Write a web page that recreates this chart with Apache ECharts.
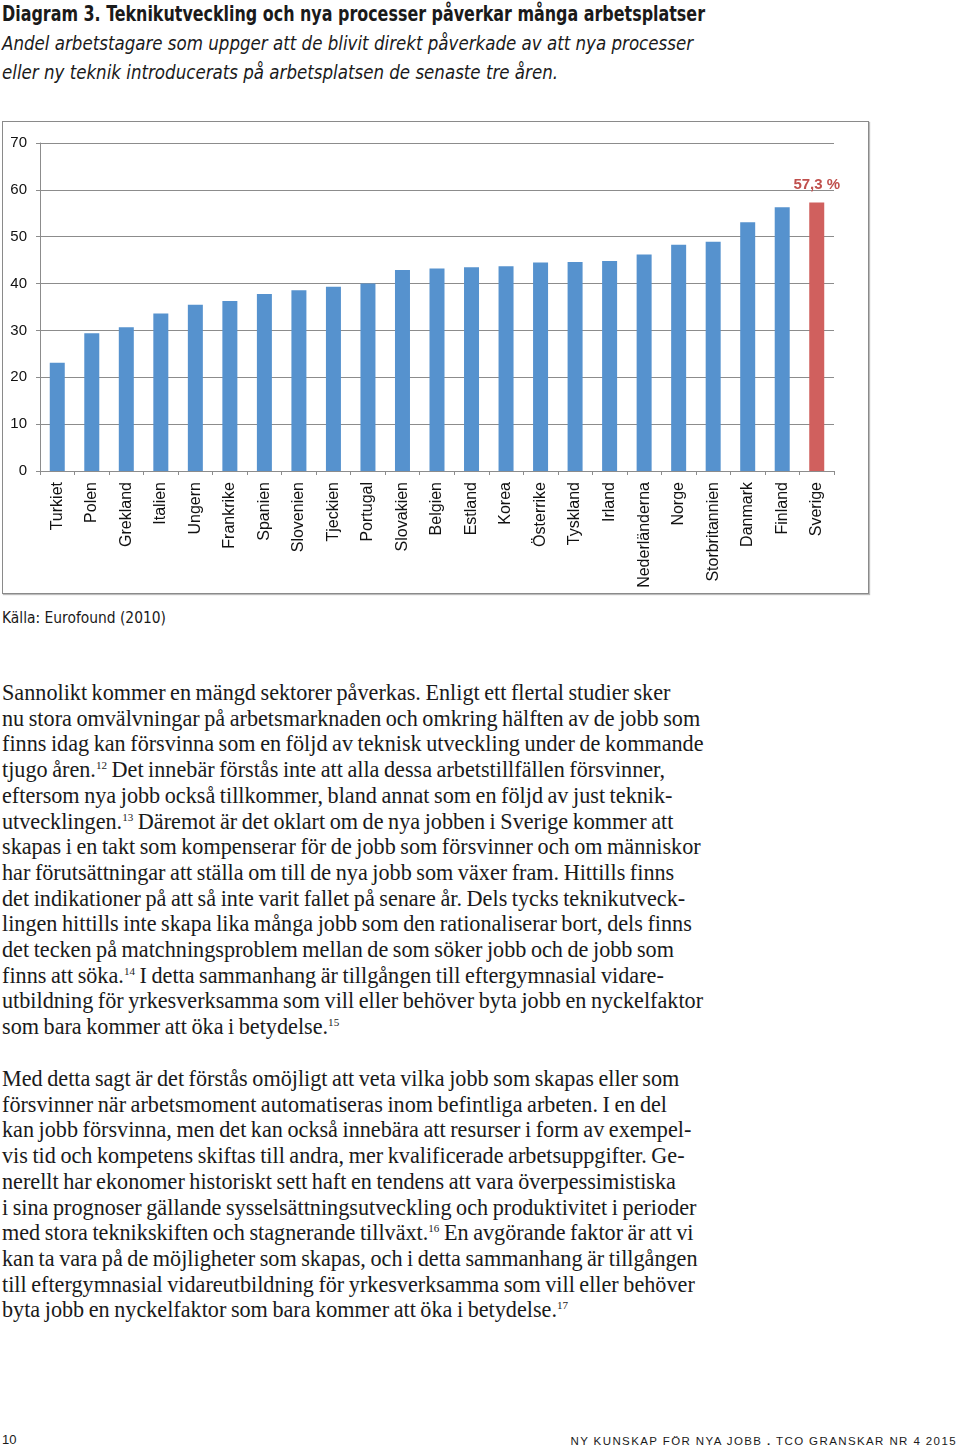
<!DOCTYPE html>
<html>
<head>
<meta charset="utf-8">
<script src="https://cdn.jsdelivr.net/npm/echarts@6/dist/echarts.min.js"></script>
<style>
  html, body { margin:0; padding:0; background:#fff; }
  body { width:960px; height:1449px; position:relative; overflow:hidden; color:#1a1a1a; }
  .abs { position:absolute; white-space:nowrap; }
  .fit { transform-origin:0 0; }
  #title { left:2px; top:1px; font-family:"Liberation Sans Narrow","DejaVu Sans Condensed","DejaVu Sans",sans-serif; font-weight:bold; font-size:21px; line-height:26px; }
  #sub { left:2px; top:29px; font-family:"Liberation Sans Narrow","DejaVu Sans Condensed","DejaVu Sans",sans-serif; font-style:italic; font-size:20px; line-height:29px; }
  #chart { position:absolute; left:2px; top:121px; width:865px; height:471px; border:1px solid #8a8a8a; box-shadow:1px 1px 1px #bbb; }
  #src { left:2px; top:608px; font-family:"Liberation Sans Narrow","DejaVu Sans Condensed","DejaVu Sans",sans-serif; font-size:15px; line-height:20px; }
  .body { font-family:"Liberation Serif","DejaVu Serif",serif; font-size:22.2px; line-height:25.7px; color:#1a1a1a; word-spacing:-1px; }
  sup { font-size:0.5em; vertical-align:0.7em; line-height:0; }
  #p1 { left:2px; top:680px; }
  #p2 { left:2px; top:1066px; }
  #pg { left:2px; top:1432px; font-family:"Liberation Sans","DejaVu Sans",sans-serif; font-size:13px; line-height:16px; }
  #foot { right:3px; top:1433px; font-family:"Liberation Sans","DejaVu Sans",sans-serif; font-size:11.5px; letter-spacing:1.4px; line-height:16px; }
</style>
</head>
<body>
<div id="title" class="abs fit" data-w="703">Diagram 3. Teknikutveckling och nya processer påverkar många arbetsplatser</div>
<div id="sub" class="abs fit" data-w="691">Andel arbetstagare som uppger att de blivit direkt påverkade av att nya processer<br>eller ny teknik introducerats på arbetsplatsen de senaste tre åren.</div>
<div id="chart"></div>
<div id="src" class="abs fit" data-w="164">Källa: Eurofound (2010)</div>
<div id="p1" class="abs body">Sannolikt kommer en mängd sektorer påverkas. Enligt ett flertal studier sker<br>nu stora omvälvningar på arbetsmarknaden och omkring hälften av de jobb som<br>finns idag kan försvinna som en följd av teknisk utveckling under de kommande<br>tjugo åren.<sup>12</sup> Det innebär förstås inte att alla dessa arbetstillfällen försvinner,<br>eftersom nya jobb också tillkommer, bland annat som en följd av just teknik-<br>utvecklingen.<sup>13</sup> Däremot är det oklart om de nya jobben i Sverige kommer att<br>skapas i en takt som kompenserar för de jobb som försvinner och om människor<br>har förutsättningar att ställa om till de nya jobb som växer fram. Hittills finns<br>det indikationer på att så inte varit fallet på senare år. Dels tycks teknikutveck-<br>lingen hittills inte skapa lika många jobb som den rationaliserar bort, dels finns<br>det tecken på matchningsproblem mellan de som söker jobb och de jobb som<br>finns att söka.<sup>14</sup> I detta sammanhang är tillgången till eftergymnasial vidare-<br>utbildning för yrkesverksamma som vill eller behöver byta jobb en nyckelfaktor<br>som bara kommer att öka i betydelse.<sup>15</sup></div>
<div id="p2" class="abs body">Med detta sagt är det förstås omöjligt att veta vilka jobb som skapas eller som<br>försvinner när arbetsmoment automatiseras inom befintliga arbeten. I en del<br>kan jobb försvinna, men det kan också innebära att resurser i form av exempel-<br>vis tid och kompetens skiftas till andra, mer kvalificerade arbetsuppgifter. Ge-<br>nerellt har ekonomer historiskt sett haft en tendens att vara överpessimistiska<br>i sina prognoser gällande sysselsättningsutveckling och produktivitet i perioder<br>med stora teknikskiften och stagnerande tillväxt.<sup>16</sup> En avgörande faktor är att vi<br>kan ta vara på de möjligheter som skapas, och i detta sammanhang är tillgången<br>till eftergymnasial vidareutbildning för yrkesverksamma som vill eller behöver<br>byta jobb en nyckelfaktor som bara kommer att öka i betydelse.<sup>17</sup></div>
<div id="pg" class="abs">10</div>
<div id="foot" class="abs">NY KUNSKAP FÖR NYA JOBB <b>.</b> TCO GRANSKAR NR 4 2015</div>
<script>
const countries = ["Turkiet","Polen","Grekland","Italien","Ungern","Frankrike","Spanien","Slovenien","Tjeckien","Portugal","Slovakien","Belgien","Estland","Korea","Österrike","Tyskland","Irland","Nederländerna","Norge","Storbritannien","Danmark","Finland","Sverige"];
const shares = [23.1,29.4,30.7,33.6,35.5,36.3,37.8,38.6,39.3,40.0,42.9,43.2,43.5,43.7,44.5,44.6,44.8,46.2,48.3,48.9,53.1,56.3,57.3];
const highlight = "Sverige";
const highlightLabel = "57,3 %";
const yTicks = [0,10,20,30,40,50,60,70];

document.querySelectorAll('.fit').forEach(el => {
  const w = el.getBoundingClientRect().width;
  const target = parseFloat(el.dataset.w);
  if (w > 0) el.style.transform = 'scaleX(' + (target / w) + ')';
});

const chart = echarts.init(document.getElementById('chart'), null, {renderer:'canvas'});
const data = shares.map((v,i) => {
  const isHi = countries[i] === highlight;
  return {
    value: v,
    itemStyle: { color: isHi ? '#D0605E' : '#5692CE' },
    label: isHi ? { show:true, position:'top', distance:10, formatter: highlightLabel, color:'#C0504D', fontWeight:'bold', fontSize:15, fontFamily:'Liberation Sans, Arial, sans-serif' } : { show:false }
  };
});
chart.setOption({
  animation:false,
  grid:{ left:37, right:34, top:21, bottom:122, containLabel:false },
  xAxis:{
    type:'category', data:countries,
    axisLine:{ lineStyle:{ color:'#8c8c8c', width:1 } },
    axisTick:{ show:true, length:4, lineStyle:{ color:'#8c8c8c' }, alignWithLabel:false },
    axisLabel:{ rotate:90, interval:0, margin:11, color:'#111', fontSize:16, fontFamily:'Liberation Sans, Arial, sans-serif' }
  },
  yAxis:{
    type:'value', min:yTicks[0], max:yTicks[yTicks.length-1], interval:10,
    axisLine:{ show:true, lineStyle:{ color:'#8c8c8c', width:1 } },
    axisTick:{ show:true, length:4, lineStyle:{ color:'#8c8c8c' } },
    axisLabel:{ margin:13, color:'#111', fontSize:15, fontFamily:'Liberation Sans, Arial, sans-serif' },
    splitLine:{ lineStyle:{ color:'#8c8c8c', width:1 } }
  },
  series:[{ type:'bar', data:data, barWidth:15 }]
});
</script>
</body>
</html>
